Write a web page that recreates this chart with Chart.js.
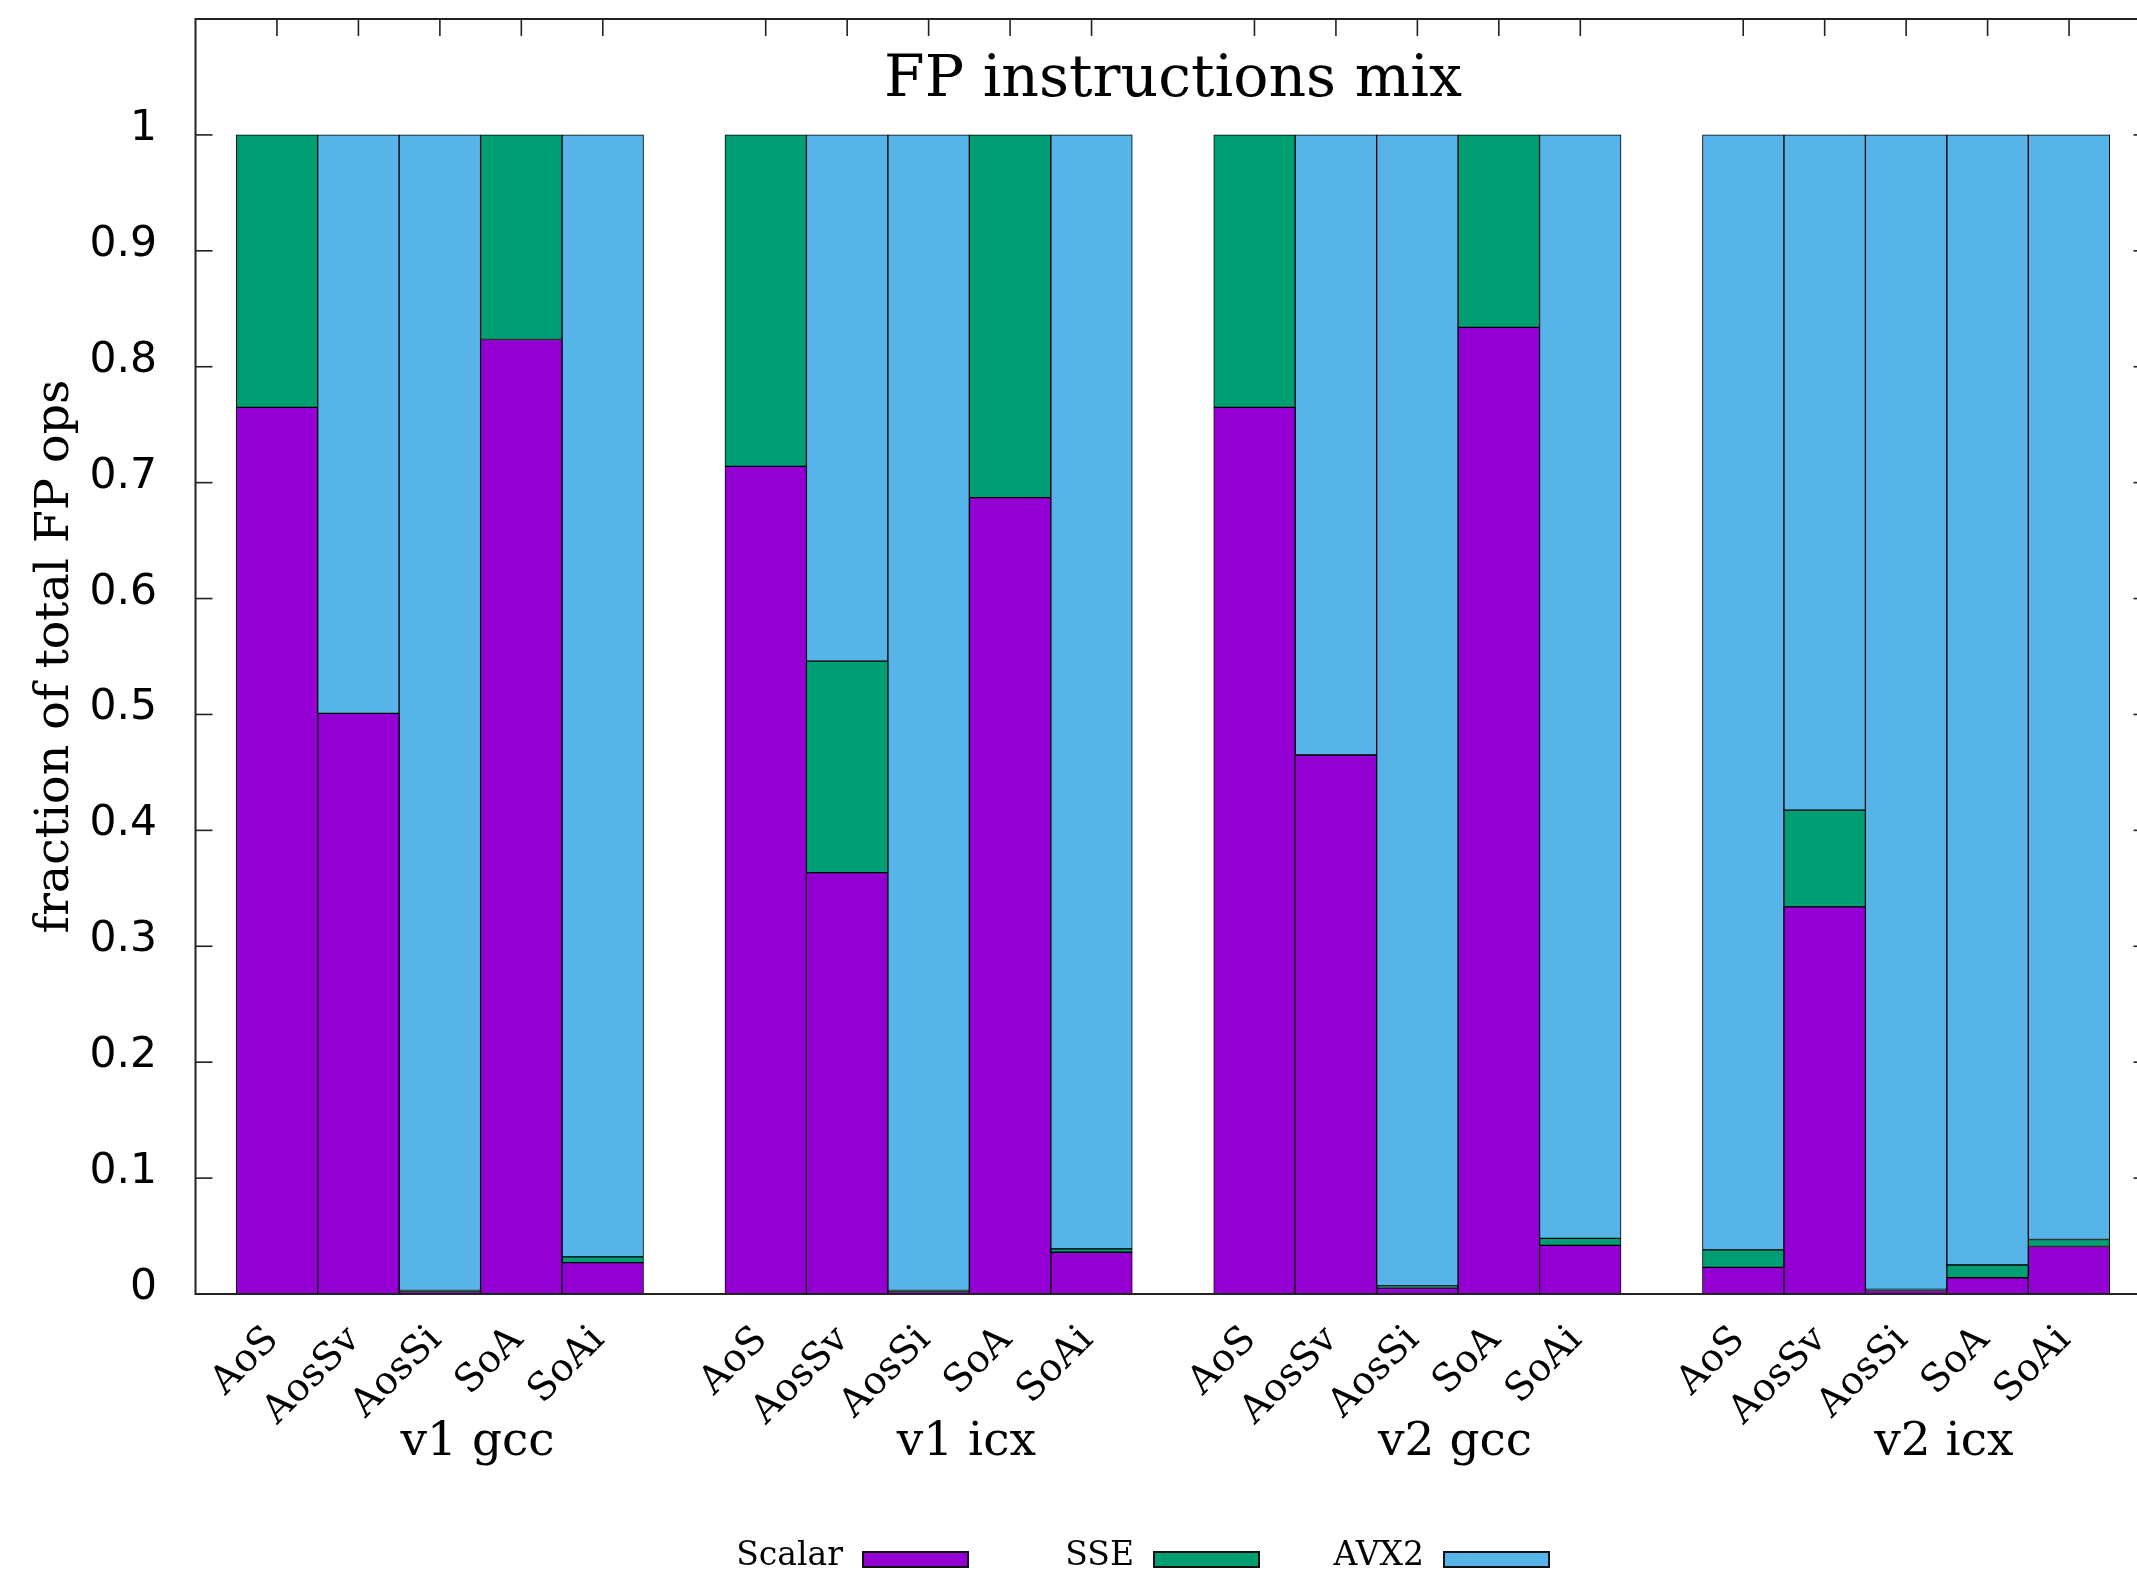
<!DOCTYPE html>
<html>
<head>
<meta charset="utf-8">
<script src="https://cdn.jsdelivr.net/npm/chart.js@4.4.0/dist/chart.umd.min.js"></script>
<style>
html, body { margin:0; padding:0; background:#fff; overflow:hidden; width:2137px; height:1573px; }
#wrap { position:absolute; left:0; top:0; width:2200px; height:1573px; }
canvas { display:block; }
</style>
</head>
<body>
<div id="wrap"><canvas id="c" width="2200" height="1573" style="width:2200px;height:1573px"></canvas></div>
<script>
// ---- data ----
const groups = ['v1 gcc', 'v1 icx', 'v2 gcc', 'v2 icx'];
const variants = ['AoS', 'AosSv', 'AosSi', 'SoA', 'SoAi'];
const seriesNames = ['Scalar', 'SSE', 'AVX2'];
const scalar = [0.765, 0.501, 0.002, 0.8235, 0.027,
                0.714, 0.3635, 0.002, 0.687, 0.036,
                0.765, 0.465, 0.005, 0.834, 0.042,
                0.023, 0.334, 0.003, 0.014, 0.041];
const sse    = [0.235, 0, 0.001, 0.1765, 0.005,
                0.286, 0.1825, 0.001, 0.313, 0.003,
                0.235, 0, 0.002, 0.166, 0.006,
                0.015, 0.0835, 0.001, 0.011, 0.006];
const avx2   = [0, 0.499, 0.997, 0, 0.968,
                0, 0.454, 0.997, 0, 0.961,
                0, 0.535, 0.993, 0, 0.952,
                0.962, 0.5825, 0.996, 0.975, 0.953];
const yTickValues = [0, 0.1, 0.2, 0.3, 0.4, 0.5, 0.6, 0.7, 0.8, 0.9, 1];
const yTickLabels = ['0', '0.1', '0.2', '0.3', '0.4', '0.5', '0.6', '0.7', '0.8', '0.9', '1'];
const titleText = 'FP instructions mix';
const yTitleText = 'fraction of total FP ops';

// ---- styles ----
const seriesColors = ['#9400d3', '#009e73', '#56b4e9'];
const SERIF = '"DejaVu Serif", serif';
const SANS = '"DejaVu Sans", sans-serif';

// category slots: blank slot before each group and after the last
const labels = [''];
const groupMid = [];
groups.forEach(() => {
  const start = labels.length;
  variants.forEach(v => labels.push(v));
  groupMid.push(start + 2.5);
  labels.push('');
});
function expand(arr) {
  const out = [null];
  let k = 0;
  groups.forEach(() => {
    variants.forEach(() => out.push(arr[k++]));
    out.push(null);
  });
  return out;
}
const seriesValues = [scalar, sse, avx2];

function line(ctx, x1, y1, x2, y2) {
  ctx.beginPath(); ctx.moveTo(x1, y1); ctx.lineTo(x2, y2); ctx.stroke();
}

const deco = {
  id: 'deco',
  afterDraw(chart) {
    const ctx = chart.ctx, a = chart.chartArea;
    const xs = chart.scales.x, ys = chart.scales.y;
    ctx.save();
    ctx.strokeStyle = '#222';
    ctx.lineWidth = 2;
    ctx.strokeRect(a.left, a.top, a.right - a.left, a.bottom - a.top);
    ctx.lineWidth = 1.6;
    // y ticks (mirrored)
    yTickValues.forEach(v => {
      const y = ys.getPixelForValue(v);
      line(ctx, a.left, y, a.left + 17, y);
      line(ctx, a.right, y, a.right - 17, y);
    });
    // top ticks
    labels.forEach((l, i) => {
      if (!l) return;
      const x = xs.getPixelForValue(i);
      line(ctx, x, a.top, x, a.top + 17);
    });
    ctx.fillStyle = '#000';
    // y tick labels
    ctx.font = '42.5px ' + SANS;
    ctx.textAlign = 'right';
    ctx.textBaseline = 'alphabetic';
    yTickValues.forEach((v, i) => {
      ctx.fillText(yTickLabels[i], 157, ys.getPixelForValue(v) + 5);
    });
    // x category labels rotated
    ctx.font = '38.5px ' + SERIF;
    labels.forEach((l, i) => {
      if (!l) return;
      const x = xs.getPixelForValue(i);
      ctx.save();
      ctx.translate(x + 3, a.bottom + 47);
      ctx.rotate(-Math.PI / 4);
      ctx.textAlign = 'right';
      ctx.textBaseline = 'alphabetic';
      ctx.fillText(l, 0, 0);
      ctx.restore();
    });
    // group labels
    ctx.font = '47px ' + SERIF;
    ctx.textAlign = 'center';
    groups.forEach((g, gi) => {
      const m = groupMid[gi];
      const x = (xs.getPixelForValue(Math.floor(m)) + xs.getPixelForValue(Math.ceil(m))) / 2;
      ctx.fillText(g, x - 3, 1455);
    });
    // title
    ctx.font = '58.5px ' + SERIF;
    ctx.fillText(titleText, (a.left + a.right) / 2, 96);
    // y title
    ctx.save();
    ctx.font = '47.5px ' + SERIF;
    ctx.translate(68, (a.top + a.bottom) / 2);
    ctx.rotate(-Math.PI / 2);
    ctx.textAlign = 'center';
    ctx.fillText(yTitleText, 0, 0);
    ctx.restore();
    // legend
    const legendTextRight = [843, 1134, 1424];
    ctx.font = '33px ' + SERIF;
    ctx.textAlign = 'right';
    chart.data.datasets.forEach((ds, i) => {
      const tx = legendTextRight[i];
      ctx.fillStyle = '#000';
      ctx.fillText(ds.label, tx, 1565);
      ctx.fillStyle = ds.backgroundColor;
      ctx.fillRect(tx + 20, 1552, 105, 15);
      ctx.strokeStyle = '#111';
      ctx.lineWidth = 2;
      ctx.strokeRect(tx + 20, 1552, 105, 15);
    });
    ctx.restore();
  }
};

new Chart(document.getElementById('c'), {
  type: 'bar',
  data: {
    labels: labels,
    datasets: seriesNames.map((n, i) => ({
      label: n,
      data: expand(seriesValues[i]),
      backgroundColor: seriesColors[i],
      borderColor: '#000',
      borderWidth: 1,
      borderSkipped: false,
      barPercentage: 1,
      categoryPercentage: 1
    }))
  },
  options: {
    responsive: false,
    animation: false,
    devicePixelRatio: 1,
    layout: { padding: { left: 195.5, right: 49.5, top: 19, bottom: 279 } },
    plugins: { legend: { display: false }, title: { display: false }, tooltip: { enabled: false } },
    scales: {
      x: { type: 'category', stacked: true, offset: false, display: false, grid: { offset: false } },
      y: { stacked: true, min: 0, max: 1.1, display: false }
    }
  },
  plugins: [deco]
});
</script>
</body>
</html>
